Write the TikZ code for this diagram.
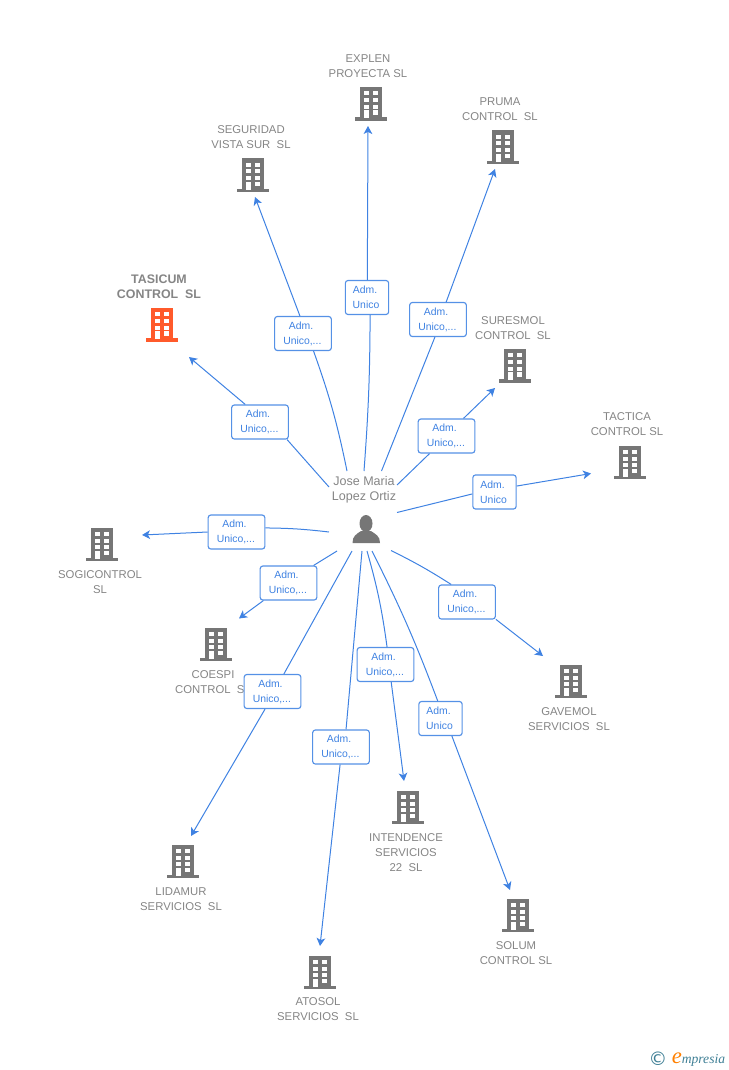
\documentclass[tikz,border=0pt]{standalone}
\usepackage{fontspec}
\setmainfont{Liberation Sans}
\newfontfamily\logofont[ItalicFont=Liberation Serif Italic]{Liberation Serif}
\newfontfamily\copyfont{DejaVu Sans}
\usetikzlibrary{arrows.meta}
\definecolor{linkblue}{HTML}{3F82E2}
\definecolor{boxblue}{HTML}{5591E6}
\definecolor{namegray}{HTML}{858585}
\definecolor{icongray}{HTML}{767676}
\definecolor{iconorange}{HTML}{FF5A2B}
\definecolor{logoteal}{HTML}{3F7F95}
\newcommand{\rolewide}{Adm.\hspace*{3pt}\\Unico,...\hspace*{1pt}}
\newcommand{\rolenarrow}{Adm.\hspace*{3pt}\\Unico\hspace*{1.5pt}}
\tikzset{
  companyname/.style={align=center,text=namegray,font=\fontsize{8.5}{11.25}\selectfont,inner sep=0pt},
  rolebox/.style={draw=boxblue,fill=white,rounded corners=2pt,line width=.85pt,align=center,
    text=linkblue,font=\fontsize{7.8}{11.25}\selectfont,minimum height=25.5pt,inner sep=0pt},
  wideb/.style={rolebox,minimum width=42.5pt},
  narrowb/.style={rolebox,minimum width=32.5pt},
  linkline/.style={draw=linkblue,line width=.75pt},
  linkarrow/.style={linkline,-{Stealth[length=6pt,width=6.5pt,inset=1.6pt]}},
  pics/building/.style={code={
    \fill[#1] (-11.3,0) rectangle (11.3,31);
    \fill[#1] (-15.7,30.3) rectangle (15.7,33.7);
    \foreach \rowtop in {4.3,11,17.7} {
      \fill[white] (-7,\rowtop) rectangle (-2,\rowtop+4);
      \fill[white] (2,\rowtop) rectangle (7,\rowtop+4);
    }
    \fill[white] (-7,23.3) rectangle (-2,31.2);
    \fill[white] (2,23.3) rectangle (7,27.7);
  }}
}
\begin{document}
\begin{tikzpicture}[x=.75pt,y=-.75pt]
  \useasboundingbox (0,0) rectangle (728,1070);
  % company names
  \node[companyname] (explen) at (368,66) {EXPLEN\\PROYECTA SL};
  \node[companyname] (pruma) at (500,109) {PRUMA\\CONTROL\ \ SL};
  \node[companyname] (seguridad) at (251,137) {SEGURIDAD\\VISTA SUR\ \ SL};
  \node[companyname,font=\fontsize{9.3}{11.25}\selectfont\bfseries] (tasicum) at (159,287) {TASICUM\\CONTROL\ \ SL};
  \node[companyname] (suresmol) at (513,328) {SURESMOL\\CONTROL\ \ SL};
  \node[companyname] (tactica) at (627,424) {TACTICA\\CONTROL SL};
  \node[companyname] (sogicontrol) at (100,582) {SOGICONTROL\\SL};
  \node[companyname] (coespi) at (213,682) {COESPI\\CONTROL\ \ SL};
  \node[companyname] (gavemol) at (569,719) {GAVEMOL\\SERVICIOS\ \ SL};
  \node[companyname] (intendence) at (406,852.5) {INTENDENCE\\SERVICIOS\\22\ \ SL};
  \node[companyname] (lidamur) at (181,899) {LIDAMUR\\SERVICIOS\ \ SL};
  \node[companyname] (solum) at (516,953) {SOLUM\\CONTROL SL};
  \node[companyname] (atosol) at (318,1009) {ATOSOL\\SERVICIOS\ \ SL};
  \node[companyname,font=\fontsize{9.4}{11.25}\selectfont] (jose) at (364,490) {Jose Maria\\Lopez Ortiz};
  % buildings
  \pic at (371,87) {building=icongray};
  \pic at (503,130.5) {building=icongray};
  \pic at (253,158.5) {building=icongray};
  \pic at (162,308) {building=iconorange};
  \pic at (515,349) {building=icongray};
  \pic at (630,445.5) {building=icongray};
  \pic at (102,527.5) {building=icongray};
  \pic at (216,627.5) {building=icongray};
  \pic at (571,664.5) {building=icongray};
  \pic at (408,790.5) {building=icongray};
  \pic at (183,844.5) {building=icongray};
  \pic at (518,898.5) {building=icongray};
  \pic at (320,955.5) {building=icongray};
  % person
  \fill[icongray] (366,523.5) ellipse (6.5 and 8.5);
  \fill[icongray] (352.5,543) .. controls (352.5,536) and (356,534.5) .. (361,531)
    -- (371,531) .. controls (376,534.5) and (380,536) .. (380,543) -- cycle;
  % role boxes
  \node[wideb] (roletasicum) at (260,422) {\rolewide};
  \node[wideb] (roleseguridad) at (303,333.5) {\rolewide};
  \node[narrowb] (roleexplen) at (367,297.5) {\rolenarrow};
  \node[wideb] (rolepruma) at (438,319.5) {\rolewide};
  \node[wideb] (rolesuresmol) at (446.5,436) {\rolewide};
  \node[narrowb] (roletactica) at (494.5,492) {\rolenarrow};
  \node[wideb] (rolegavemol) at (467,602) {\rolewide};
  \node[narrowb] (rolesolum) at (440.5,718.5) {\rolenarrow};
  \node[wideb] (roleintendence) at (385.5,664.5) {\rolewide};
  \node[wideb] (roleatosol) at (341,747) {\rolewide};
  \node[wideb] (rolelidamur) at (272.5,691.5) {\rolewide};
  \node[wideb] (rolecoespi) at (288.5,583) {\rolewide};
  \node[wideb] (rolesogi) at (236.5,532) {\rolewide};
  % link ends
  \coordinate (tasicumin) at (189,357);
  \coordinate (seguridadin) at (255,197);
  \coordinate (explenin) at (368,126);
  \coordinate (prumain) at (495,169);
  \coordinate (suresmolin) at (495,388);
  \coordinate (tacticain) at (591,473.5);
  \coordinate (gavemolin) at (543,656);
  \coordinate (solumin) at (510,890);
  \coordinate (intendencein) at (404,781);
  \coordinate (atosolin) at (320,946);
  \coordinate (lidamurin) at (191,836);
  \coordinate (coespiin) at (239,618.5);
  \coordinate (sogiin) at (142,535);
  \coordinate (p1) at (329,487);
  \coordinate (p2) at (347,471);
  \coordinate (p3) at (364,471);
  \coordinate (p4) at (381.5,471);
  \coordinate (p5) at (397,485);
  \coordinate (p6) at (397,512.5);
  \coordinate (p7) at (391,550.5);
  \coordinate (p8) at (372,551);
  \coordinate (p9) at (367,551);
  \coordinate (p10) at (362,551);
  \coordinate (p11) at (352,551);
  \coordinate (p12) at (337,551);
  \coordinate (p13) at (329,532);
  % links
  \draw[linkline] (p1) -- (roletasicum.-33);
  \draw[linkarrow] (roletasicum.130) -- (tasicumin);
  \draw[linkline] (p2) to[bend right=4] (roleseguridad.-59.5);
  \draw[linkarrow] (roleseguridad.100) -- (seguridadin);
  \draw[linkline] (p3) to[bend right=2] (roleexplen.-80);
  \draw[linkarrow] (roleexplen.89) -- (explenin);
  \draw[linkline] (p4) -- (rolepruma.-100);
  \draw[linkarrow] (rolepruma.65) -- (prumain);
  \draw[linkline] (p5) -- (rolesuresmol.-134);
  \draw[linkarrow] (rolesuresmol.46) -- (suresmolin);
  \draw[linkline] (p6) -- (roletactica.185);
  \draw[linkarrow] (roletactica.15) -- (tacticain);
  \draw[linkline] (p7) to[bend left=3] (rolegavemol.132);
  \draw[linkarrow] (rolegavemol.-31) -- (gavemolin);
  \draw[linkline] (p8) to[bend left=3] (rolesolum.99);
  \draw[linkarrow] (rolesolum.-57) -- (solumin);
  \draw[linkline] (p9) to[bend left=4] (roleintendence.85);
  \draw[linkarrow] (roleintendence.-72) -- (intendencein);
  \draw[linkline] (p10) -- (roleatosol.74);
  \draw[linkarrow] (roleatosol.-93) -- (atosolin);
  \draw[linkline] (p11) -- (rolelidamur.57);
  \draw[linkarrow] (rolelidamur.-113) -- (lidamurin);
  \draw[linkline] (p12) -- (rolecoespi.35);
  \draw[linkarrow] (rolecoespi.-145) -- (coespiin);
  \draw[linkline] (p13) to[bend right=3] (rolesogi.8);
  \draw[linkarrow] (rolesogi.180) -- (sogiin);
  % logo
  \node[inner sep=0pt,text=logoteal,font=\copyfont\fontsize{14}{14}\selectfont] (logoc) at (658,1059) {©};
  \node[inner sep=0pt,anchor=west,font=\logofont\itshape\fontsize{10.2}{10.2}\selectfont,text=logoteal] (logotext) at (671.5,1060)
    {\textcolor{orange}{\fontsize{17}{17}\selectfont e}mpresia};
\end{tikzpicture}
\end{document}
